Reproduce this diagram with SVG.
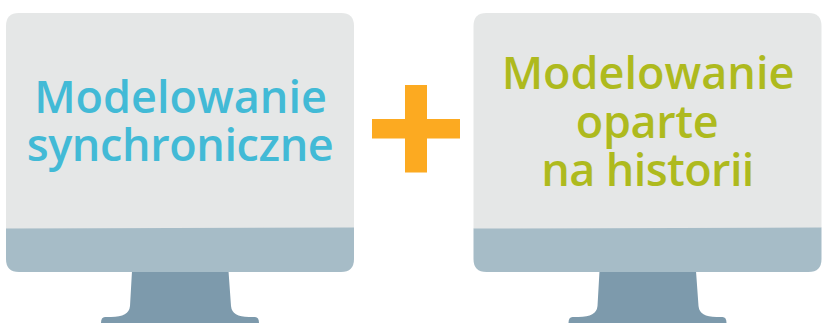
<svg xmlns="http://www.w3.org/2000/svg" width="824" height="323" viewBox="0 0 824 323">
<style>
.screen{fill:#e5e7e7}
.bezel{fill:#a6bcc7}
.stand{fill:#7d9aac}
.t{font-family:"Open Sans","Liberation Sans",sans-serif;font-weight:600;font-size:45px;text-anchor:middle}
.tight{letter-spacing:-0.4px}
.tighter{letter-spacing:-0.6px}
.blue{fill:#42bad6}
.green{fill:#aeba1e}
</style>
<defs>
<g id="monitor">
<path class="stand" d="M132 271L130 306Q129 317 111 317L105 317Q101 317 101 323L259 323Q259 317 255 317L249 317Q232 317 231 306L228.500 271Z"/>
<path class="screen" d="M6 229V26Q6 13 19 13H341Q354 13 354 26V228Z"/>
<path class="bezel" d="M6 228.500L354 227.500V259Q354 272 341 272H19Q6 272 6 259Z"/>
</g>
</defs>
<g id="monitor-left">
<use href="#monitor"/>
<text class="t blue" x="180.500" y="113">Modelowanie</text>
<text class="t blue tight" x="180" y="160.500">synchroniczne</text>
</g>
<g id="plus">
<path fill="#fcaa21" d="M405 85H427V119H460V138.500H427V172.500H405V138.500H372V119H405Z"/>
</g>
<g id="monitor-right">
<use href="#monitor" x="467.500"/>
<text class="t green" x="648" y="89">Modelowanie</text>
<text class="t green tight" x="647" y="138">oparte</text>
<text class="t green tighter" x="647.500" y="186">na historii</text>
</g>
<g id="connectors"/>
</svg>
